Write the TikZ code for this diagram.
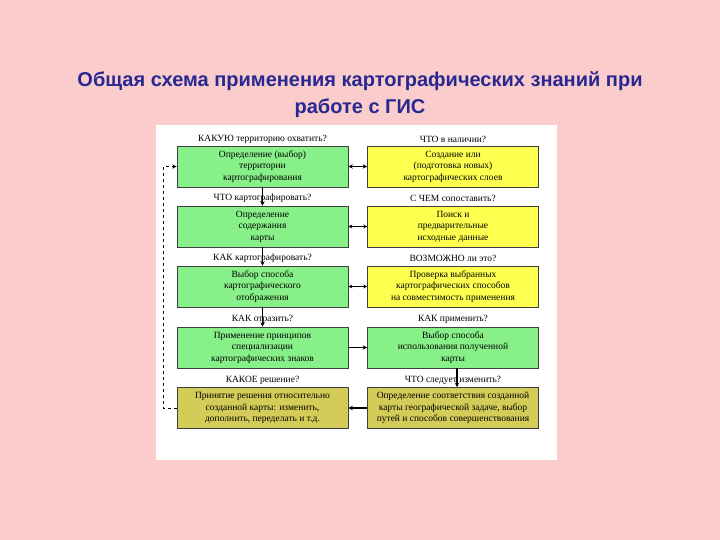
\documentclass[tikz,border=0pt]{standalone}
\usepackage{fontspec}
\setmainfont{Liberation Serif}
\newfontfamily\titlefont{Liberation Sans}
\usetikzlibrary{arrows.meta}
\definecolor{bgpink}{RGB}{251,204,204}
\definecolor{titleblue}{RGB}{40,40,145}
\definecolor{boxgreen}{RGB}{136,240,136}
\definecolor{boxyellow}{RGB}{255,255,80}
\definecolor{boxolive}{RGB}{212,204,88}
\tikzset{
  stepbox/.style={draw=black!75, line width=0.6pt, minimum width=171pt, minimum height=41pt,
    inner sep=1pt, align=center, font=\fontsize{9.5}{11.5}\selectfont},
  gbox/.style={stepbox, fill=boxgreen},
  ybox/.style={stepbox, fill=boxyellow},
  obox/.style={stepbox, fill=boxolive},
  qlabel/.style={inner sep=0.5pt, font=\fontsize{9.5}{11}\selectfont},
  thickarr/.style={line width=1.4pt},
  thinarr/.style={line width=0.7pt},
}
\begin{document}
\begin{tikzpicture}[x=1pt,y=-1pt]
\fill[bgpink] (0,0) rectangle (720,540);
\useasboundingbox (0,0) rectangle (720,540);
\fill[white] (156,125) rectangle (557,460);
\node[font=\titlefont\bfseries\fontsize{20}{27}\selectfont, text=titleblue, align=center] (title) at (360,95)
  {Общая схема применения картографических знаний при\\работе с ГИС};

% left column
\node[gbox] (L1) at (262.5,166.5) {Определение (выбор)\\территории\\картографирования};
\node[gbox] (L2) at (262.5,226.5) {Определение\\содержания\\карты};
\node[gbox] (L3) at (262.5,286.5) {Выбор способа\\картографического\\отображения};
\node[gbox] (L4) at (262.5,347.5) {Применение принципов\\специализации\\картографических знаков};
\node[obox] (L5) at (262.5,408) {Принятие решения относительно\\созданной карты: изменить,\\дополнить, переделать и т.д.};

% right column
\node[ybox] (R1) at (453,166.5) {Создание или\\(подготовка новых)\\картографических слоев};
\node[ybox] (R2) at (453,226.5) {Поиск и\\предварительные\\исходные данные};
\node[ybox] (R3) at (453,286.5) {Проверка выбранных\\картографических способов\\на совместимость применения};
\node[gbox] (R4) at (453,347.5) {Выбор способа\\использования полученной\\карты};
\node[obox] (R5) at (453,408) {Определение соответствия созданной\\карты географической задаче, выбор\\путей и способов совершенствования};

% vertical arrows
\draw[thickarr,-{Stealth[length=4.5pt,width=4.5pt]}] (L1.south) -- (L2.north);
\draw[thickarr,-{Stealth[length=4.5pt,width=4.5pt]}] (L2.south) -- (L3.north);
\draw[thickarr,-{Stealth[length=4.5pt,width=4.5pt]}] (L3.south) -- (L4.north);
\draw[thickarr,-{Stealth[length=4.5pt,width=4.5pt]}] ([xshift=4pt]R4.south) -- ([xshift=4pt]R5.north);

% question labels
\node[qlabel] (QL1) at (262.5,139) {КАКУЮ территорию охватить?};
\node[qlabel] (QL2) at (262.5,198) {ЧТО картографировать?};
\node[qlabel] (QL3) at (262.5,258) {КАК картографировать?};
\node[qlabel] (QL4) at (262.5,319) {КАК отразить?};
\node[qlabel] (QL5) at (262.5,380) {КАКОЕ решение?};
\node[qlabel] (QR1) at (453,139) {ЧТО в наличии?};
\node[qlabel] (QR2) at (453,198) {С ЧЕМ сопоставить?};
\node[qlabel] (QR3) at (453,258) {ВОЗМОЖНО ли это?};
\node[qlabel] (QR4) at (453,319) {КАК применить?};
\node[qlabel] (QR5) at (453,380) {ЧТО следует изменить?};

% horizontal connectors
\draw[thickarr,{Stealth[length=4.5pt,width=4.5pt]}-{Stealth[length=4.5pt,width=4.5pt]}] (L1.east) -- (R1.west);
\draw[thinarr,{Stealth[length=4pt,width=4pt]}-{Stealth[length=4pt,width=4pt]}] (L2.east) -- (R2.west);
\draw[thinarr,{Stealth[length=4pt,width=4pt]}-{Stealth[length=4pt,width=4pt]}] (L3.east) -- (R3.west);
\draw[thickarr,-{Stealth[length=4.5pt,width=4.5pt]}] (L4.east) -- (R4.west);
\draw[thickarr,-{Stealth[length=4.5pt,width=4.5pt]}] (R5.west) -- (L5.east);

% dashed feedback loop
\coordinate (FB1) at (163,408);
\coordinate (FB2) at (163,166.5);
\draw[line width=0.9pt, dashed, -{Stealth[length=4.5pt,width=4.5pt]}] (L5.west) -- (FB1) -- (FB2) -- (L1.west);
\end{tikzpicture}
\end{document}
